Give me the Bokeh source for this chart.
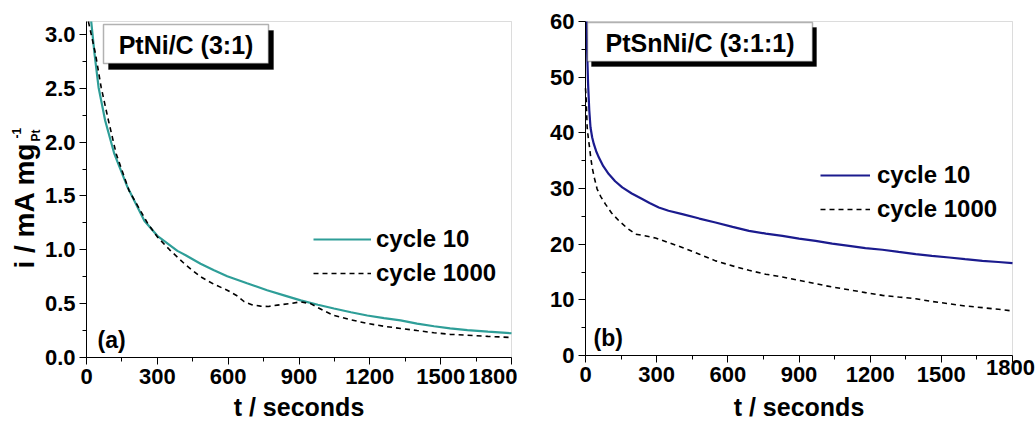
import math
from bokeh.plotting import figure
from bokeh.models import (Range1d, FixedTicker, PrintfTickFormatter, Label,
                          BoxAnnotation, Legend, LegendItem, LinearAxis)
from bokeh.layouts import row
from bokeh.embed import file_html
from bokeh.resources import INLINE

# ---------------- data ----------------
x_ticks = [0, 300, 600, 900, 1200, 1500, 1800]
x_minor = [150, 450, 750, 1050, 1350, 1650]
ya_ticks = [0.0, 0.5, 1.0, 1.5, 2.0, 2.5, 3.0]
ya_minor = [0.25, 0.75, 1.25, 1.75, 2.25, 2.75]
yb_ticks = [0, 10, 20, 30, 40, 50, 60]
yb_minor = [5, 15, 25, 35, 45, 55]
x_lim = (0, 1800)
ya_lim = (0, 3.12)
yb_lim = (0, 60)

series_labels = ["cycle 10", "cycle 1000"]

# Panel (a) PtNi/C (3:1)
a_t10 = [20, 34, 51, 79, 118, 174, 245, 300, 385, 420, 483, 540, 596,
         680, 765, 840, 907, 980, 1048, 1120, 1189, 1260, 1330, 1400, 1472, 1540,
         1613, 1700, 1800]
a_i10 = [3.12, 2.82, 2.51, 2.2, 1.89, 1.58, 1.27, 1.13, 0.99, 0.95, 0.87,
         0.81, 0.755, 0.69, 0.625, 0.575, 0.53, 0.49, 0.455, 0.42, 0.39, 0.365,
         0.345, 0.315, 0.29, 0.27, 0.254, 0.24, 0.225]
a_t1000 = [8, 38, 62, 93, 126, 180, 258, 300, 352, 420, 483,
           540, 596, 640, 667, 700, 737, 770, 808, 860, 907, 949, 1000, 1048,
           1120, 1189, 1260, 1330, 1400, 1472, 1540, 1613, 1700, 1800]
a_i1000 = [3.12, 2.82, 2.51, 2.2, 1.89, 1.55, 1.25, 1.12, 1.0, 0.86, 0.75,
           0.68, 0.625, 0.57, 0.52, 0.49, 0.477, 0.474, 0.486,
           0.50, 0.517, 0.50, 0.44, 0.39, 0.35, 0.316, 0.29, 0.27, 0.25, 0.23,
           0.215, 0.207, 0.196, 0.186]

# Panel (b) PtSnNi/C (3:1:1)
b_t10 = [4, 8, 11, 16, 21, 28, 35, 45, 56, 75, 98, 125, 155, 195, 239, 270, 309,
         350, 408, 480, 548, 620, 689, 760, 830, 900, 970, 1040, 1111, 1180, 1252,
         1320, 1392, 1460, 1533, 1600, 1673, 1740, 1800]
b_i10 = [60, 53, 48.7, 44, 41, 39.2, 38, 36.7, 35.6, 34, 32.6, 31.3, 30.2, 29.1,
         28.1, 27.4, 26.6, 26.0, 25.4, 24.6, 23.9, 23.1, 22.4, 21.9, 21.5, 21.0,
         20.6, 20.1, 19.7, 19.3, 19.0, 18.6, 18.2, 17.9, 17.6, 17.3, 17.0, 16.8, 16.6]
b_t1000 = [0, 3, 7, 12, 17, 22, 28, 38, 49, 65, 84, 110, 141, 175, 211, 250, 295,
           350, 408, 480, 548, 620, 689, 760, 830, 900, 970, 1040, 1111, 1180, 1252,
           1320, 1392, 1460, 1533, 1600, 1673, 1740, 1800]
b_i1000 = [48, 46, 41, 39, 37.4, 35.6, 33.8, 31.8, 29.9, 28.5, 27.2, 25.6, 24.2,
           22.9, 21.8, 21.5, 21.1, 20.3, 19.4, 18.2, 17.0, 16.1, 15.3, 14.6, 14.1,
           13.5, 12.9, 12.3, 11.8, 11.3, 10.8, 10.5, 10.2, 9.7, 9.3, 8.9, 8.6, 8.3, 8.0]

FONT = "Liberation Sans"
TEAL = "#2E9E98"
NAVY = "#1B1B8E"
H = 422


def style_axis(ax, show_line, show_labels):
    ax.axis_line_color = "black" if show_line else None
    ax.axis_line_width = 1
    ax.major_tick_line_color = "black" if show_line else None
    ax.minor_tick_line_color = "black" if show_line else None
    ax.major_tick_out = 7
    ax.major_tick_in = 0
    ax.minor_tick_out = 4
    ax.minor_tick_in = 0
    ax.major_label_text_font = FONT
    ax.major_label_text_font_style = "bold"
    ax.major_label_text_font_size = "22px"
    ax.major_label_text_color = "black"
    ax.major_label_text_alpha = 1 if show_labels else 0
    ax.major_label_standoff = 4


def make_fig(width, px_l, px_r, px_t, px_b, xlim, ylim, yt, ym, fmt, hide_last):
    """Figure whose frame fills the canvas; plot box sits at pixel box
    (px_l..px_r, px_t..px_b) and axes are pinned to the data origin."""
    sx = (px_r - px_l) / (xlim[1] - xlim[0])
    sy = (px_b - px_t) / (ylim[1] - ylim[0])
    xr = Range1d(xlim[0] - px_l / sx, xlim[1] + (width - px_r) / sx)
    yr = Range1d(ylim[0] - (H - px_b) / sy, ylim[1] + px_t / sy)
    p = figure(width=width, height=H, output_backend="svg", toolbar_location=None,
               x_range=xr, y_range=yr, min_border=0, min_border_left=0,
               min_border_right=0, min_border_top=0, min_border_bottom=0)
    p.title.text = ""
    p.grid.visible = False
    p.outline_line_color = None
    p.background_fill_color = "white"
    p.border_fill_color = "white"
    # plot box outline
    p.add_layout(BoxAnnotation(left=xlim[0], right=xlim[1], bottom=ylim[0],
                               top=ylim[1], fill_alpha=0, line_color="#8a8a8a",
                               line_width=1, level="underlay"))
    p.xaxis.ticker = FixedTicker(ticks=x_ticks, minor_ticks=x_minor)
    p.yaxis.ticker = FixedTicker(ticks=yt, minor_ticks=ym)
    p.yaxis.formatter = PrintfTickFormatter(format=fmt)
    p.xaxis.fixed_location = ylim[0]
    p.yaxis.fixed_location = xlim[0]
    p.xaxis.bounds = xlim
    p.yaxis.bounds = ylim
    style_axis(p.xaxis[0], True, False)
    style_axis(p.yaxis[0], True, True)
    # label-only x axis
    lab = LinearAxis(ticker=FixedTicker(ticks=x_ticks, minor_ticks=[]),
                     fixed_location=ylim[0])
    style_axis(lab, False, True)
    if hide_last:
        lab.major_label_overrides = {x_ticks[-1]: ""}
    p.add_layout(lab, "below")
    return p


def clabel(p, x, y, text, size, align="left", baseline="middle", angle=0.0):
    p.add_layout(Label(x=x, y=y, x_units="canvas", y_units="canvas", text=text,
                       angle=angle, text_align=align, text_baseline=baseline,
                       text_font=FONT, text_font_style="bold",
                       text_font_size=size, text_color="black", level="overlay"))


def add_box(p, x0, x1, y0, y1, off, text):
    xs = p.x_range
    ys = p.y_range
    W = p.width
    fx = lambda px: xs.start + px / W * (xs.end - xs.start)
    fy = lambda py: ys.end - py / H * (ys.end - ys.start)
    p.add_layout(BoxAnnotation(left=fx(x0 + off), right=fx(x1 + off),
                               top=fy(y0 + off + 1), bottom=fy(y1 + off + 1),
                               fill_color="black", fill_alpha=1,
                               line_color="black", level="overlay"))
    p.add_layout(BoxAnnotation(left=fx(x0), right=fx(x1), top=fy(y0), bottom=fy(y1),
                               fill_color="white", fill_alpha=1, line_color="black",
                               line_width=1.5, level="overlay"))
    clabel(p, (x0 + x1) / 2, (y0 + y1) / 2 + 1, text, "25px", align="center")


def add_legend(p, r1, r2, loc, gw, standoff):
    leg = Legend(items=[LegendItem(label=series_labels[0], renderers=[r1]),
                        LegendItem(label=series_labels[1], renderers=[r2])],
                 location=loc, orientation="vertical", padding=0, margin=0,
                 spacing=6, glyph_width=gw, glyph_height=28, label_height=28,
                 label_standoff=standoff, border_line_color=None,
                 background_fill_alpha=0, label_text_font=FONT,
                 label_text_font_style="bold", label_text_font_size="24px",
                 label_text_color="black")
    p.add_layout(leg)


# ---------------- panel (a) ----------------
pa = make_fig(517, 86, 511, 21, 357, x_lim, ya_lim, ya_ticks, ya_minor, "%.1f",
              False)
ra10 = pa.line(a_t10, a_i10, line_color=TEAL, line_width=2.2)
ra1000 = pa.line(a_t1000, a_i1000, line_color="black", line_width=1.6,
                 line_dash="5 4")
add_legend(pa, ra10, ra1000, (313, H - 287), 58, 5)
add_box(pa, 103, 268, 24, 63, 5, "PtNi/C (3:1)")
clabel(pa, 97, 339, "(a)", "23px")
clabel(pa, 298.5, 406, "t / seconds", "25px", align="center")
# y-axis title: i / mA mg_Pt^-1
clabel(pa, 24, 268, "i / mA mg", "28px", angle=math.pi / 2)
clabel(pa, 35, 141, "Pt", "12px", angle=math.pi / 2)
clabel(pa, 16, 138, "-1", "12px", angle=math.pi / 2)

# ---------------- panel (b) ----------------
OFF = 517
pb = make_fig(518, 585 - OFF, 1012 - OFF, 21, 355, x_lim, yb_lim, yb_ticks,
              yb_minor, "%d", True)
rb10 = pb.line(b_t10, b_i10, line_color=NAVY, line_width=2.2)
rb1000 = pb.line(b_t1000, b_i1000, line_color="black", line_width=1.6,
                 line_dash="5 4")
add_legend(pb, rb10, rb1000, (820 - OFF, H - 223), 50, 7)
add_box(pb, 587 - OFF, 812 - OFF, 22, 61, 4, "PtSnNi/C (3:1:1)")
clabel(pb, 593 - OFF, 337, "(b)", "23px")
clabel(pb, 1010 - OFF, 367, str(x_ticks[-1]), "22px", align="center")
clabel(pb, 798.5 - OFF, 406, "t / seconds", "25px", align="center")

layout = row(pa, pb, spacing=0)
open("out.html", "w").write(file_html(layout, INLINE))
